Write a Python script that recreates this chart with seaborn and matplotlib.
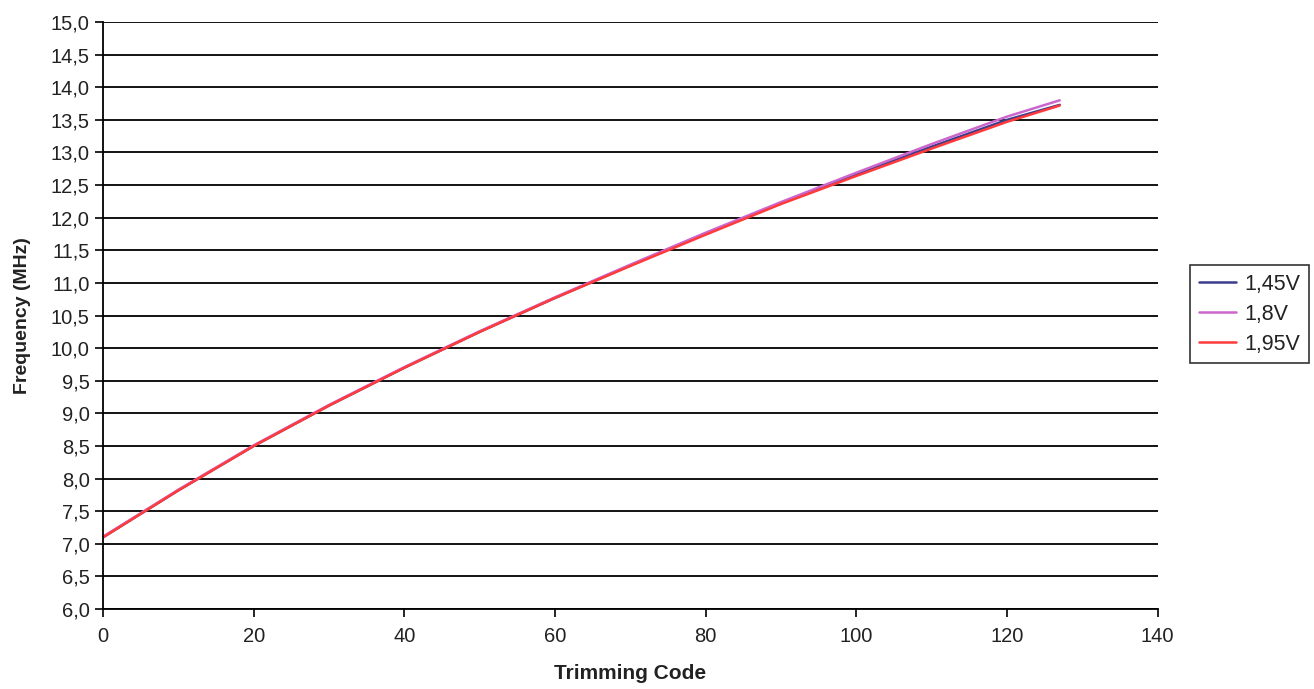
import numpy as np
import pandas as pd
import matplotlib
matplotlib.use("Agg")
import matplotlib.pyplot as plt
from matplotlib.ticker import FuncFormatter, MultipleLocator
import seaborn as sns

# trimming codes and measured frequency (MHz) per supply voltage
codes = [0, 10, 20, 30, 40, 50, 60, 70, 80, 90, 100, 110, 120, 127]
f_145 = [7.10, 7.82, 8.50, 9.12, 9.70, 10.25, 10.77, 11.27, 11.76, 12.22, 12.66, 13.09, 13.50, 13.73]
f_18 = [7.11, 7.83, 8.51, 9.13, 9.71, 10.26, 10.78, 11.28, 11.77, 12.24, 12.69, 13.13, 13.55, 13.80]
f_195 = [7.10, 7.82, 8.50, 9.12, 9.70, 10.25, 10.77, 11.26, 11.74, 12.21, 12.64, 13.06, 13.47, 13.72]
labels = ["1,45V", "1,8V", "1,95V"]
colors = ["#3c3c8c", "#cc66cc", "#ff3b3b"]

df = pd.concat([
    pd.DataFrame({"code": codes, "freq": f, "supply": lab})
    for f, lab in zip([f_145, f_18, f_195], labels)
])

sns.set_style("white")
plt.rcParams["font.family"] = ["Liberation Sans", "DejaVu Sans"]

fig = plt.figure(figsize=(13.14, 6.89), dpi=100)
ax = fig.add_axes([0.0784, 0.116, 0.8026, 0.852])

sns.lineplot(data=df, x="code", y="freq", hue="supply", palette=dict(zip(labels, colors)),
             hue_order=labels, linewidth=1.8, ax=ax, legend=True)

ax.set_xlim(0, 140)
ax.set_ylim(6.0, 15.0)
ax.xaxis.set_major_locator(MultipleLocator(20))
ax.yaxis.set_major_locator(MultipleLocator(0.5))
ax.yaxis.set_major_formatter(FuncFormatter(lambda v, p: f"{v:.1f}".replace(".", ",")))
ax.grid(axis="y", color="black", linewidth=1.3)
ax.set_axisbelow(True)
for s in ["top", "right"]:
    ax.spines[s].set_visible(False)
for s in ["left", "bottom"]:
    ax.spines[s].set_color("black")
    ax.spines[s].set_linewidth(1.3)
ax.tick_params(axis="both", direction="out", length=6, width=1.2, color="black",
               labelsize=14.5, labelcolor="#222222", left=True, bottom=True)
ax.tick_params(axis="x", pad=7)

ax.set_xlabel("Trimming Code", fontsize=15, fontweight="bold", color="#222222", labelpad=13)
ax.set_ylabel("Frequency (MHz)", fontsize=14, fontweight="bold", color="#222222", labelpad=14)

leg = ax.legend(loc="center left", bbox_to_anchor=(0.906, 0.544), bbox_transform=fig.transFigure,
                borderaxespad=0, fontsize=15.5, frameon=True, fancybox=False, edgecolor="black",
                handlelength=1.7, handletextpad=0.4, borderpad=0.4, labelspacing=0.42)
leg.get_frame().set_linewidth(1.2)
for t in leg.get_texts():
    t.set_color("#222222")

fig.savefig("out.png", dpi=100)
